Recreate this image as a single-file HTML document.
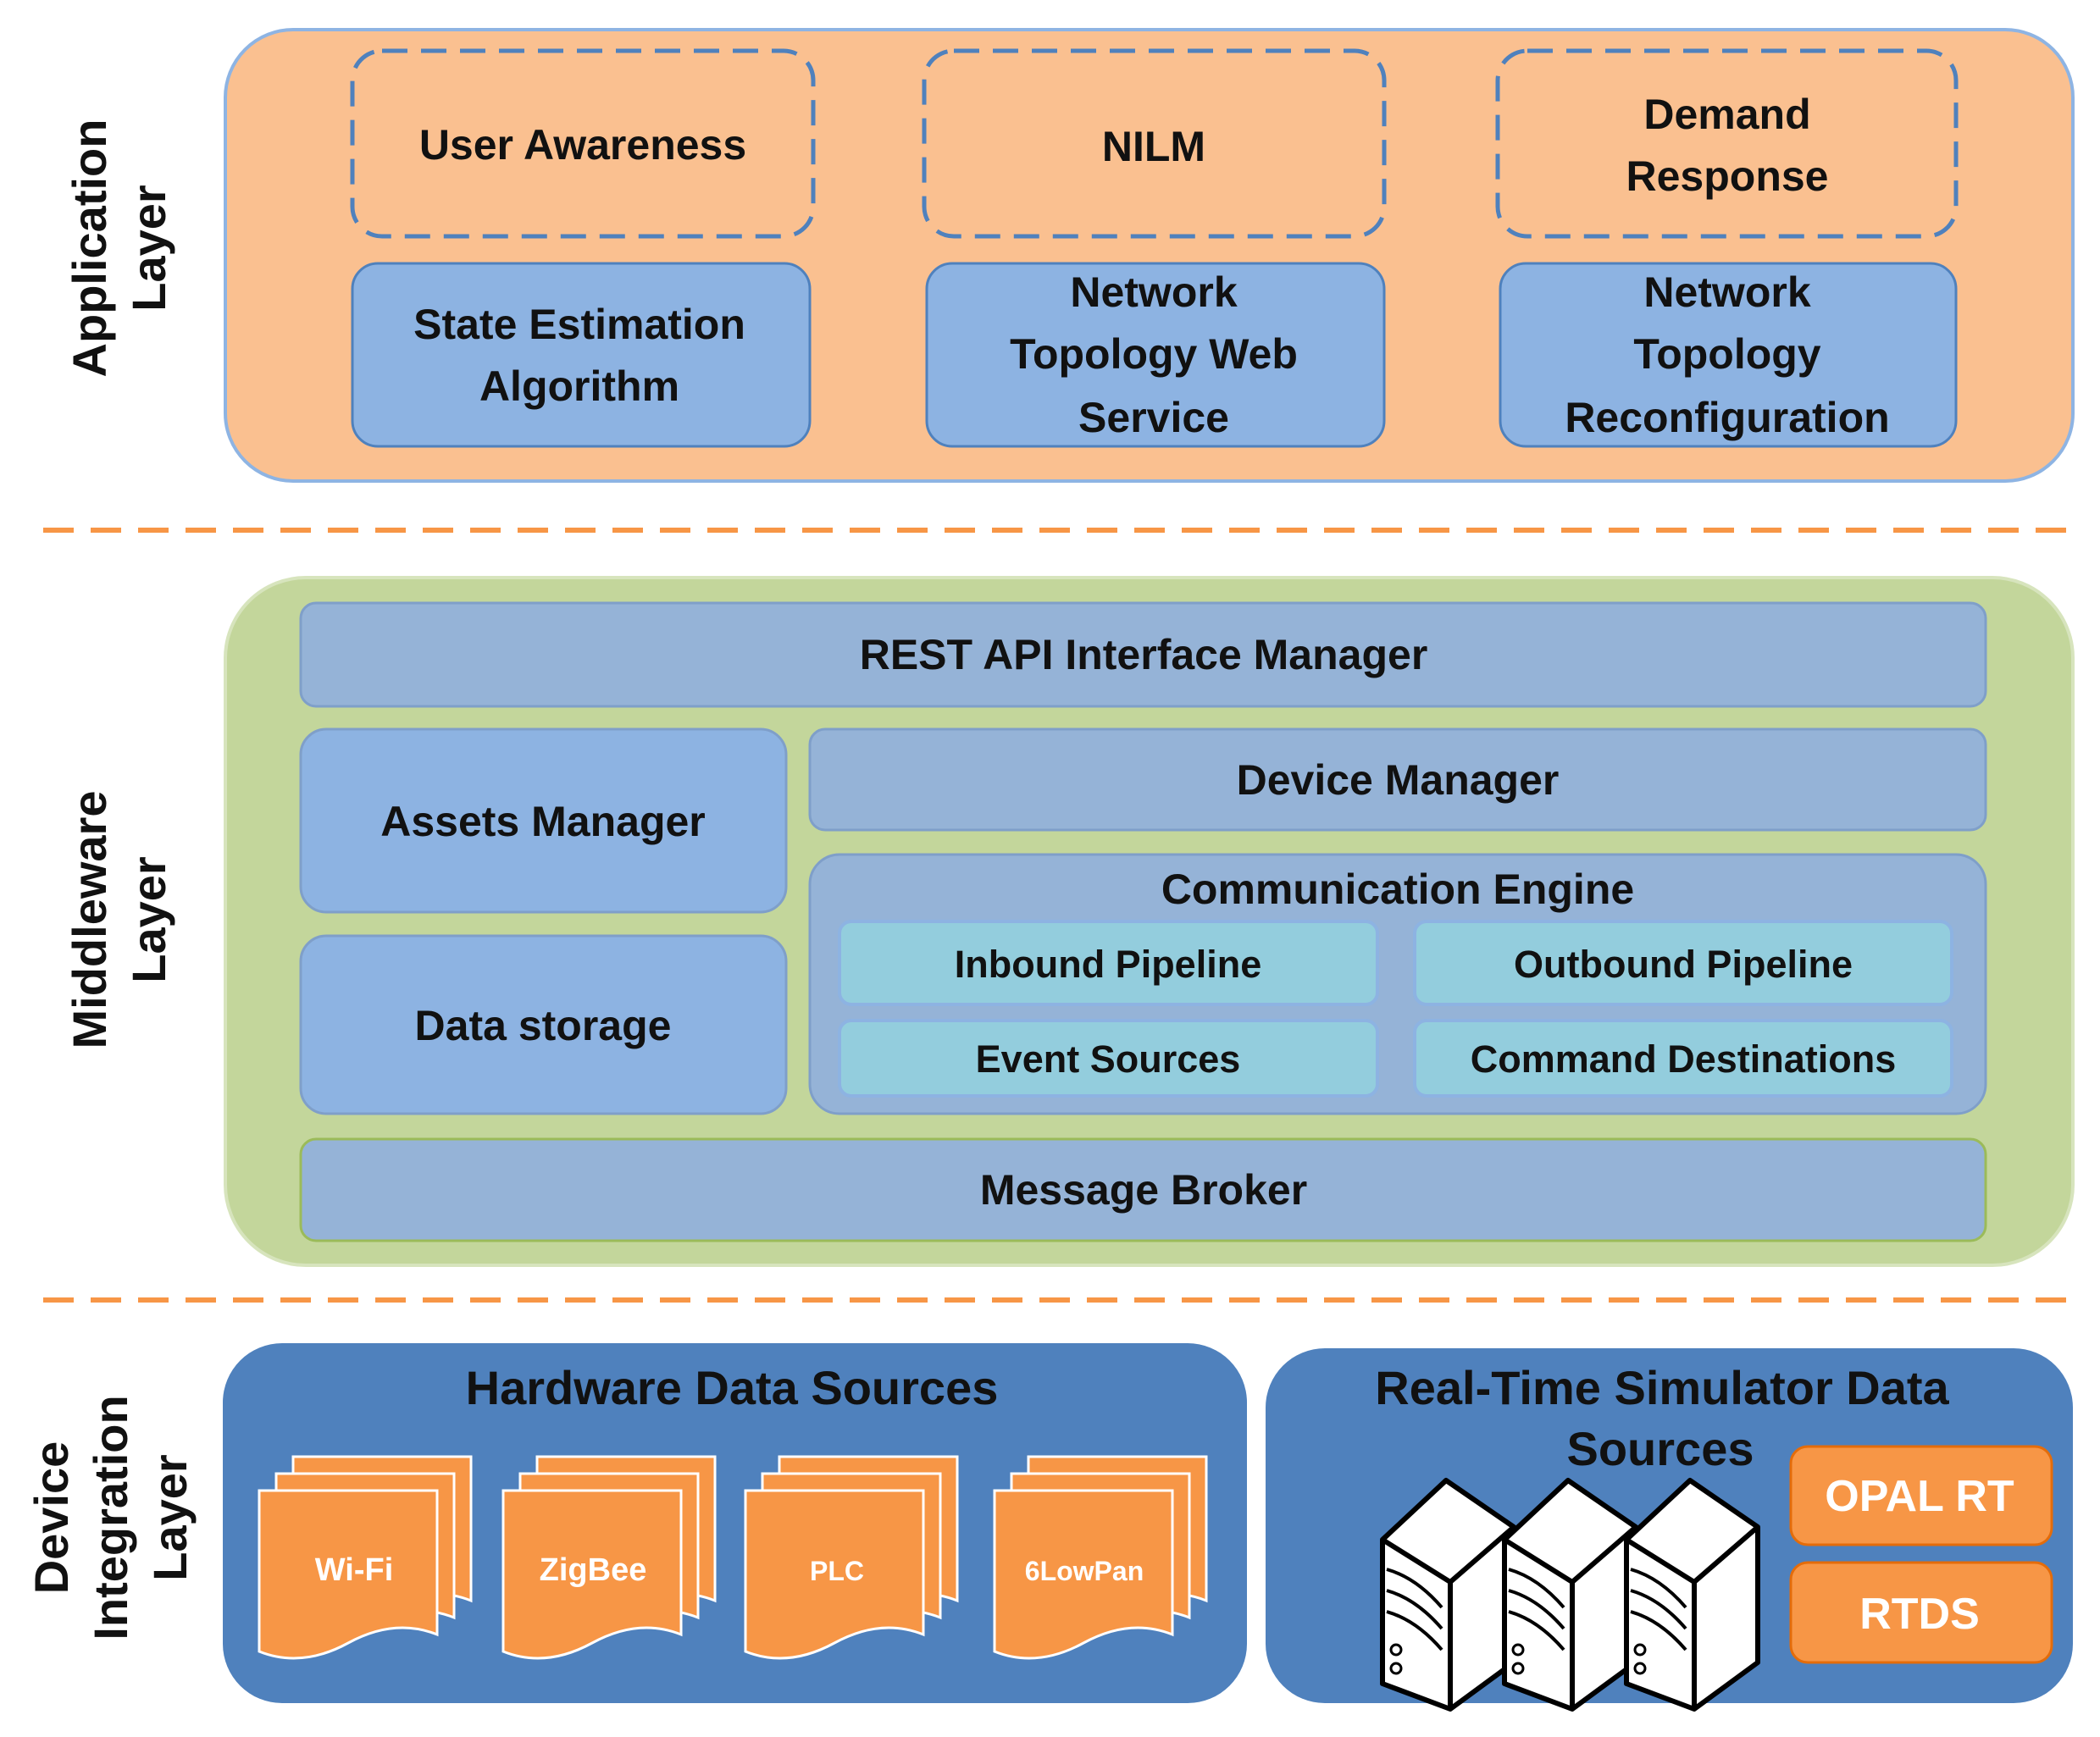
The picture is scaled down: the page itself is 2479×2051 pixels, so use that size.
<!DOCTYPE html>
<html><head><meta charset="utf-8"><style>
html,body{margin:0;padding:0;background:#fff;}
svg{display:block;}
text{font-family:"Liberation Sans",sans-serif;font-weight:bold;fill:#111;}
</style></head><body>
<svg width="2479" height="2051" viewBox="0 0 2479 2051" xmlns="http://www.w3.org/2000/svg">
<defs>
<g id="doc">
  <path d="M0,0 h210 v170 q-50,-20 -105,10 q-55,30 -105,10 z" stroke="#fff" stroke-width="3" fill="#f79646"/>
</g>
<g id="srv" stroke="#000" stroke-width="6" fill="#fff" stroke-linejoin="round">
  <path d="M0,70 L75,0 L155,55 L155,215 L80,270 L0,240 Z"/>
  <path d="M0,70 L80,120 L155,55 M80,120 L80,270" fill="none"/>
  <path d="M5,105 q35,10 65,45 M5,130 q35,10 65,45 M5,155 q35,10 65,45" fill="none" stroke-width="4"/>
  <circle cx="16" cy="200" r="6" stroke-width="3"/>
  <circle cx="16" cy="222" r="6" stroke-width="3"/>
</g>
</defs>

<!-- Application layer -->
<rect x="266" y="35" width="2181" height="533" rx="80" fill="#fac090" stroke="#8eb4e3" stroke-width="4"/>
<g fill="none" stroke="#4f81bd" stroke-width="5" stroke-dasharray="30,16">
<rect x="416" y="60" width="544" height="219" rx="35"/>
<rect x="1091" y="60" width="543" height="219" rx="35"/>
<rect x="1768" y="60" width="541" height="219" rx="35"/>
</g>
<g fill="#8db3e2" stroke="#4f81bd" stroke-width="3">
<rect x="416" y="311" width="540" height="216" rx="30"/>
<rect x="1094" y="311" width="540" height="216" rx="30"/>
<rect x="1771" y="311" width="538" height="216" rx="30"/>
</g>
<g font-size="50" text-anchor="middle">
<text x="688" y="188">User Awareness</text>
<text x="1362" y="190">NILM</text>
<text x="2039" y="152">Demand</text>
<text x="2039" y="225">Response</text>
<text x="684" y="400">State Estimation</text>
<text x="684" y="473">Algorithm</text>
<text x="1362" y="362">Network</text>
<text x="1362" y="435">Topology Web</text>
<text x="1362" y="510">Service</text>
<text x="2039" y="362">Network</text>
<text x="2039" y="435">Topology</text>
<text x="2039" y="510">Reconfiguration</text>
</g>

<!-- dashed separators -->
<g stroke="#f79646" stroke-width="6" stroke-dasharray="36,20">
<line x1="51" y1="626" x2="2447" y2="626"/>
<line x1="51" y1="1535" x2="2447" y2="1535"/>
</g>

<!-- Middleware -->
<rect x="266" y="682" width="2181" height="812" rx="95" fill="#c3d69b" stroke="#d7e4bd" stroke-width="4"/>
<g stroke="#7f9fc9" stroke-width="3">
<rect x="355" y="712" width="1989" height="122" rx="18" fill="#95b3d7"/>
<rect x="355" y="861" width="573" height="216" rx="30" fill="#8db3e2"/>
<rect x="355" y="1105" width="573" height="210" rx="30" fill="#8db3e2"/>
<rect x="956" y="861" width="1388" height="119" rx="18" fill="#95b3d7"/>
<rect x="956" y="1009" width="1388" height="306" rx="35" fill="#95b3d7"/>
<rect x="355" y="1345" width="1989" height="120" rx="18" fill="#95b3d7" stroke="#9bbb59"/>
</g>
<g fill="#93cddd" stroke="#8db3e2" stroke-width="4">
<rect x="991" y="1088" width="635" height="98" rx="14"/>
<rect x="1670" y="1088" width="634" height="98" rx="14"/>
<rect x="991" y="1205" width="635" height="89" rx="14"/>
<rect x="1670" y="1205" width="634" height="89" rx="14"/>
</g>
<g font-size="50" text-anchor="middle">
<text x="1350" y="790">REST API Interface Manager</text>
<text x="641" y="987">Assets Manager</text>
<text x="641" y="1228">Data storage</text>
<text x="1650" y="938">Device Manager</text>
<text x="1650" y="1067">Communication Engine</text>
<text x="1350" y="1422">Message Broker</text>
</g>
<g font-size="45" text-anchor="middle">
<text x="1308" y="1154">Inbound Pipeline</text>
<text x="1987" y="1154">Outbound Pipeline</text>
<text x="1308" y="1266">Event Sources</text>
<text x="1987" y="1266">Command Destinations</text>
</g>

<!-- Device integration -->
<rect x="263" y="1586" width="1209" height="425" rx="70" fill="#4f81bd"/>
<rect x="1494" y="1592" width="953" height="419" rx="70" fill="#4f81bd"/>
<g font-size="56" text-anchor="middle">
<text x="864" y="1658">Hardware Data Sources</text>
<text x="1962" y="1658">Real-Time Simulator Data</text>
<text x="1960" y="1730">Sources</text>
</g>
<g>
<use href="#doc" x="346" y="1720"/><use href="#doc" x="326" y="1740"/><use href="#doc" x="306" y="1760"/>
<use href="#doc" x="634" y="1720"/><use href="#doc" x="614" y="1740"/><use href="#doc" x="594" y="1760"/>
<use href="#doc" x="920" y="1720"/><use href="#doc" x="900" y="1740"/><use href="#doc" x="880" y="1760"/>
<use href="#doc" x="1214" y="1720"/><use href="#doc" x="1194" y="1740"/><use href="#doc" x="1174" y="1760"/>
</g>
<g font-size="38" text-anchor="middle" style="fill:#fff">
<text x="418" y="1866" style="fill:#fff">Wi-Fi</text>
<text x="700" y="1866" style="fill:#fff">ZigBee</text>
<text x="988" y="1866" style="fill:#fff" font-size="32">PLC</text>
<text x="1280" y="1866" style="fill:#fff" font-size="32">6LowPan</text>
</g>
<use href="#srv" x="1632" y="1748"/>
<use href="#srv" x="1776" y="1748"/>
<use href="#srv" x="1920" y="1748"/>
<g fill="#f79646" stroke="#e46c0a" stroke-width="3">
<rect x="2114" y="1708" width="308" height="116" rx="20"/>
<rect x="2114" y="1845" width="308" height="118" rx="20"/>
</g>
<g font-size="52" text-anchor="middle">
<text x="2266" y="1784" style="fill:#fff">OPAL RT</text>
<text x="2266" y="1923" style="fill:#fff">RTDS</text>
</g>

<!-- Left labels -->
<g font-size="56" text-anchor="middle">
<text transform="translate(125,293) rotate(-90)">Application</text>
<text transform="translate(195,293) rotate(-90)">Layer</text>
<text transform="translate(125,1086) rotate(-90)">Middleware</text>
<text transform="translate(195,1086) rotate(-90)">Layer</text>
<text transform="translate(80,1792) rotate(-90)">Device</text>
<text transform="translate(150,1792) rotate(-90)">Integration</text>
<text transform="translate(220,1792) rotate(-90)">Layer</text>
</g>
</svg>
</body></html>
